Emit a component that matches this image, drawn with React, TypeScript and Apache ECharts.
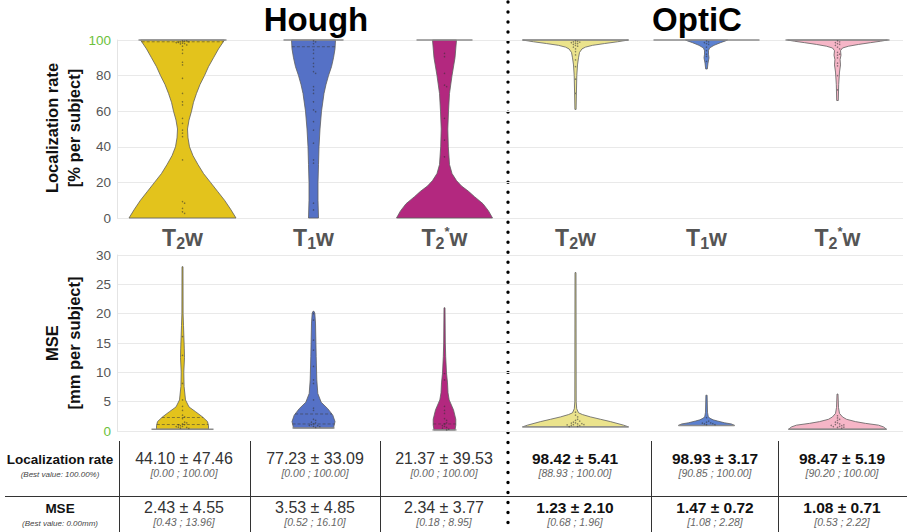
import React, { useEffect, useRef } from 'react';
import * as echarts from 'echarts';

const FONT = "'Liberation Sans', Arial, Helvetica, sans-serif";

// ---------- data ----------
const CATEGORIES = ['Hough T2w', 'Hough T1w', 'Hough T2*w', 'OptiC T2w', 'OptiC T1w', 'OptiC T2*w'];
const METHOD_TITLES = ['Hough', 'OptiC'];
const VIOLIN_COLORS = ['#e3c31c', '#5571c6', '#b3287f', '#ebe38c', '#5b80d0', '#f6b6c7'];

const LR_TICK_BEST = 100;
const MSE_TICK_BEST = 0;

// violin half-width profiles: [value, half-width density] (density unit: 1/131 of a category band)
const LR_PROFILES: number[][][] = [
  [[0, 53.5], [5, 48], [10, 42], [15, 35], [20, 28], [25, 21], [30, 15.5], [35, 10.5], [40, 7], [45, 5.5], [50, 5], [55, 6.5], [60, 9], [65, 11], [70, 14], [75, 17.5], [80, 22], [85, 26], [90, 31], [95, 36], [100, 42]],
  [[0, 5], [10, 4.5], [20, 4.5], [30, 5], [40, 5.5], [50, 6.5], [60, 8], [70, 10.5], [75, 12.5], [80, 15], [85, 18], [90, 20], [95, 21.5], [100, 22]],
  [[0, 48], [4, 44], [8, 38.5], [12, 30], [15, 24], [18, 17], [21, 12], [25, 7.5], [30, 5], [40, 3.8], [50, 3.3], [60, 4], [70, 5], [80, 7.5], [90, 10.5], [100, 12]],
  [[61, 0.6], [70, 0.9], [80, 1.3], [86, 2], [90, 3], [93, 4], [95, 6.5], [96, 10], [97, 17], [98, 29], [99, 42], [100, 53]],
  [[83.7, 0.8], [87, 1.5], [90, 2.5], [92, 2], [94, 2], [95.5, 3], [97, 7.5], [98.5, 14], [99.5, 19], [100, 21]],
  [[66, 0.8], [75, 1.2], [82, 2], [86, 3], [89, 2.6], [91.5, 3.5], [94, 3], [95.5, 5], [96.5, 11], [97.5, 21], [98.5, 33], [99.3, 43], [100, 50]],
];
const MSE_PROFILES: number[][][] = [
  [[0.3, 26], [0.9, 26], [1.6, 25], [2.4, 20], [3.3, 13], [4.1, 6.5], [5.3, 3], [7.6, 1.6], [10, 1.3], [12.5, 2], [14, 1.8], [16, 1.4], [18, 1], [20, 0.6], [28, 0.5]],
  [[0.5, 20], [1.6, 21.5], [2.7, 19.3], [3.8, 14.3], [4.9, 7.7], [6.4, 4.3], [8.7, 3.3], [12.7, 2.7], [18.4, 2], [20.1, 1.3], [20.4, 0.5]],
  [[0.18, 10.5], [1, 11.3], [2, 11.3], [3.6, 9], [5.3, 4.7], [6.5, 3.5], [8.2, 3], [9.9, 2], [12.7, 1.2], [15, 0.8], [21, 0.5]],
  [[0.7, 53], [1.0, 48], [1.6, 35], [2.0, 25], [2.4, 15], [2.8, 7], [3.1, 3], [3.8, 1.2], [5, 0.7], [27, 0.5]],
  [[0.95, 28], [1.2, 25], [1.4, 18], [1.7, 11], [1.9, 6.7], [2.2, 3], [2.5, 1.7], [3.2, 1], [6.1, 0.6]],
  [[0.3, 49], [0.7, 46], [1.0, 41], [1.3, 28], [1.6, 18], [2.0, 9], [2.4, 5], [3.0, 2], [4.0, 1], [6.3, 0.5]],
];

// half-width of the dense row of subjects at the best value
const LR_EDGE_SPREAD = [44, 30, 28, 53, 53, 52];
const MSE_EDGE_SPREAD = [31, 21, 12, 53, 28, 49];

// quartile lines drawn inside the violins (dashed)
const LR_QUARTILES: number[][] = [[99], [96.2], [], [], [], []];
const MSE_QUARTILES: number[][] = [[1.1, 2.3], [1.2, 2.9], [1.2], [], [], []];

// individual subjects
const LR_POINTS: number[][] = [
  [99.5, 99.5, 99.3, 99, 99, 98.7, 98.5, 98.2, 98, 97.8, 97.2, 96.5, 94.4, 92.5, 87.5, 86, 78.5, 70, 65.3, 63.5, 56, 53.2, 49.4, 47.7, 45.7, 32.6, 9.2, 8.3, 5.4, 3.5, 2.6],
  [99.5, 99, 98, 94.4, 92.5, 89.7, 86.9, 85, 82.2, 81.3, 73.8, 71.9, 70, 65.3, 60.7, 59.7, 54.1, 49.4, 42, 32.6, 30.8, 8.3, 4.5],
  [92.5, 90.6, 81.3, 74.7, 73.8, 56, 43.8, 34.4],
  [99.5, 99.2, 99, 98.8, 98.5, 98.2, 98, 97.5, 97, 96.5, 96, 95, 93.5, 91.6, 88.8, 85, 78, 70],
  [99.5, 99, 98.5, 98, 97.5, 96, 94, 92, 90.8, 88],
  [99.5, 99, 98.5, 98, 97.5, 97, 96, 95, 93, 92, 91.5, 90, 87, 85.5, 80, 72],
];
const MSE_POINTS: number[][] = [
  [0.45, 0.5, 0.55, 0.6, 0.65, 0.7, 0.75, 0.8, 0.85, 0.9, 1.0, 1.05, 1.1, 1.2, 1.3, 1.4, 1.5, 1.6, 1.75, 1.9, 2.1, 2.4, 2.7, 3.1, 3.5, 4.2, 5.3, 6.4, 8.1, 12.7, 12.9, 13.3, 13.9, 16.1, 17.8],
  [0.52, 0.6, 0.7, 0.75, 0.8, 0.9, 0.95, 1.0, 1.1, 1.2, 1.3, 1.4, 1.5, 1.6, 1.8, 2.0, 2.2, 2.5, 2.8, 3.1, 3.5, 3.9, 4.3, 5.3, 6.4, 7.0, 8.1, 8.7, 11.0, 13.8, 15.5, 17.2, 18.9, 20.0],
  [0.18, 0.3, 0.4, 0.5, 0.6, 0.7, 0.8, 0.9, 1.0, 1.2, 1.4, 1.6, 1.8, 2.1, 2.5, 3.0, 3.5, 4.2, 5.8, 7.0, 8.7, 9.8],
  [0.7, 0.75, 0.8, 0.85, 0.9, 0.95, 1.0, 1.0, 1.05, 1.1, 1.1, 1.15, 1.2, 1.25, 1.3, 1.35, 1.4, 1.5, 1.6, 1.7, 1.8, 1.9, 2.0, 2.2, 2.4, 2.7, 3.2, 17.5],
  [1.08, 1.1, 1.15, 1.2, 1.25, 1.3, 1.35, 1.4, 1.5, 1.6, 1.7, 1.9, 2.28],
  [0.5, 0.55, 0.6, 0.65, 0.7, 0.75, 0.8, 0.85, 0.9, 0.95, 1.0, 1.05, 1.1, 1.15, 1.2, 1.3, 1.4, 1.5, 1.6, 1.8, 2.0, 2.22, 2.6, 3.4],
];

// summary table
const LR_MEAN = [44.10, 77.23, 21.37, 98.42, 98.93, 98.47];
const LR_SD = [47.46, 33.09, 39.53, 5.41, 3.17, 5.19];
const LR_RANGE = [[0, 100], [0, 100], [0, 100], [88.93, 100], [90.85, 100], [90.20, 100]];
const MSE_MEAN = [2.43, 3.53, 2.34, 1.23, 1.47, 1.08];
const MSE_SD = [4.55, 4.85, 3.77, 2.10, 0.72, 0.71];
const MSE_RANGE = [[0.43, 13.96], [0.52, 16.10], [0.18, 8.95], [0.68, 1.96], [1.08, 2.28], [0.53, 2.22]];
const BEST_METHOD_COLS = [3, 4, 5];
const ROW_TITLES = ['Localization rate', 'MSE'];
const ROW_SUBTITLES = ['(Best value: 100.00%)', '(Best value: 0.00mm)'];
const AXIS_NAMES = [['Localization rate', '[% per subject]'], ['MSE', '[mm per subject]']];

// ---------- layout ----------
const DENSITY_BAND = 131;
const GRID_LEFT = 117;
const GRID_RIGHT = 8;
const DIVIDER_X = 508;
const TABLE_COL_X = [184, 315, 444, 575, 715, 842];
const TABLE_VLINES = [119, 250, 380, 651, 778];

function widthAt(profile: number[][], v: number) {
  for (let i = 1; i < profile.length; i++) {
    const [v0, d0] = profile[i - 1];
    const [v1, d1] = profile[i];
    if (v >= v0 && v <= v1) return d0 + ((d1 - d0) * (v - v0)) / (v1 - v0 || 1);
  }
  return 0;
}

function violinSeries(gridIndex: number, catIndex: number, profile: number[][], points: number[], quartiles: number[], edgeSpread: number, edgeAtMax: boolean, color: string) {
  const top = profile[profile.length - 1][0];
  const bottom = profile[0][0];
  return {
    type: 'custom',
    xAxisIndex: gridIndex,
    yAxisIndex: gridIndex,
    silent: true,
    data: [[catIndex, top]],
    renderItem: (_params: any, api: any) => {
      const cat = api.value(0);
      const cx = api.coord([cat, 0])[0];
      const k = api.size([1, 0])[0] / DENSITY_BAND;
      const yOf = (v: number) => api.coord([cat, v])[1];
      const right = profile.map(([v, d]) => [cx + d * k, yOf(v)]);
      const left = profile.slice().reverse().map(([v, d]) => [cx - d * k, yOf(v)]);
      const children: any[] = [
        { type: 'polygon', shape: { points: [...right, ...left] }, style: { fill: color, stroke: '#5e5e5e', lineWidth: 0.8 } },
      ];
      quartiles.forEach((q) => {
        const w = widthAt(profile, q) * k;
        children.push({
          type: 'line', shape: { x1: cx - w, y1: yOf(q), x2: cx + w, y2: yOf(q) },
          style: { stroke: 'rgba(60,60,60,0.7)', lineWidth: 0.8, lineDash: [3, 2] },
        });
      });
      const ev = edgeAtMax ? top : bottom;
      children.push({
        type: 'line',
        shape: { x1: cx - edgeSpread * k, y1: yOf(ev), x2: cx + edgeSpread * k, y2: yOf(ev) },
        style: { stroke: '#8c8c8c', lineWidth: 1.4 },
      });
      // beeswarm placement
      const step = 2.1;
      const placed: number[][] = [];
      const ys = points.map(yOf).sort((a, b) => a - b);
      for (const py of ys) {
        let off = 0;
        for (let i = 0; i < 400; i++) {
          const o = i === 0 ? 0 : (i % 2 ? 1 : -1) * Math.ceil(i / 2) * step;
          const ok = placed.every(([qx, qy]) => (qx - (cx + o)) ** 2 + (qy - py) ** 2 >= step * step);
          if (ok) { off = o; break; }
        }
        placed.push([cx + off, py]);
      }
      placed.forEach(([x, y]) => {
        children.push({ type: 'circle', shape: { cx: x, cy: y, r: 0.75 }, style: { fill: 'rgba(50,50,50,0.55)' } });
      });
      return { type: 'group', children };
    },
  };
}

const catLabel = (name: string) => {
  const seq = name.split(' ')[1];
  if (seq === 'T2*w') return '{t|T}{s|2}{p|*}{t|w}';
  return `{t|T}{s|${seq[1]}}{t|w}`;
};

const tickFormatter = (best: number) => (v: number) => (v === best ? `{g|${v}}` : `{n|${v}}`);
const tickRich = {
  g: { color: '#6cc13b', fontSize: 13.5, fontFamily: FONT },
  n: { color: '#555', fontSize: 13.5, fontFamily: FONT },
};

function buildGraphics() {
  const g: any[] = [];
  METHOD_TITLES.forEach((t, i) => {
    g.push({
      type: 'text', x: i === 0 ? 316 : 697, y: 19,
      style: { text: t, font: `bold 33px ${FONT}`, fill: '#000', align: 'center', verticalAlign: 'middle' },
    });
  });
  // axis names
  const nameY = [128, 343];
  AXIS_NAMES.forEach((lines, r) => {
    lines.forEach((txt, li) => {
      g.push({
        type: 'text', x: li === 0 ? 52 : 74, y: nameY[r], rotation: Math.PI / 2,
        style: { text: txt, font: `bold 16.5px ${FONT}`, fill: '#111', align: 'center', verticalAlign: 'middle' },
      });
    });
  });
  // table lines
  g.push({ type: 'line', shape: { x1: 5, y1: 496.5, x2: 907, y2: 496.5 }, style: { stroke: '#333', lineWidth: 1 } });
  TABLE_VLINES.forEach((x) => {
    g.push({ type: 'line', shape: { x1: x + 0.5, y1: 441, x2: x + 0.5, y2: 532 }, style: { stroke: '#333', lineWidth: 1 } });
  });
  // row titles
  const rowY = [459, 508];
  ROW_TITLES.forEach((t, r) => {
    g.push({ type: 'text', x: 60, y: rowY[r], style: { text: t, font: `bold 13.5px ${FONT}`, fill: '#111', align: 'center', verticalAlign: 'middle' } });
    g.push({ type: 'text', x: 60, y: rowY[r] + 15, style: { text: ROW_SUBTITLES[r], font: `italic 8px ${FONT}`, fill: '#444', align: 'center', verticalAlign: 'middle' } });
  });
  // cells
  const rows = [
    { mean: LR_MEAN, sd: LR_SD, range: LR_RANGE },
    { mean: MSE_MEAN, sd: MSE_SD, range: MSE_RANGE },
  ];
  rows.forEach((row, r) => {
    TABLE_COL_X.forEach((x, c) => {
      const best = BEST_METHOD_COLS.includes(c);
      g.push({
        type: 'text', x, y: rowY[r] - 1,
        style: {
          text: `${row.mean[c].toFixed(2)} ± ${row.sd[c].toFixed(2)}`,
          font: best ? `bold 15.5px ${FONT}` : `16px ${FONT}`,
          fill: best ? '#111' : '#333', align: 'center', verticalAlign: 'middle',
        },
      });
      g.push({
        type: 'text', x, y: rowY[r] + 14,
        style: {
          text: `[${row.range[c][0].toFixed(2)} ; ${row.range[c][1].toFixed(2)}]`,
          font: `italic 10.5px ${FONT}`, fill: '#666', align: 'center', verticalAlign: 'middle',
        },
      });
    });
  });
  // dotted divider
  g.push({
    type: 'line', shape: { x1: DIVIDER_X, y1: 2, x2: DIVIDER_X, y2: 532 },
    style: { stroke: '#000', lineWidth: 3.4, lineDash: [0.01, 10], lineCap: 'round' },
  });
  return g;
}

export default function App() {
  const ref = useRef<HTMLDivElement>(null);
  useEffect(() => {
    document.body.style.margin = '0';
    const chart = echarts.init(ref.current!, undefined, { renderer: 'svg' });
    const series: any[] = [];
    CATEGORIES.forEach((_c, i) => {
      series.push(violinSeries(0, i, LR_PROFILES[i], LR_POINTS[i], LR_QUARTILES[i], LR_EDGE_SPREAD[i], true, VIOLIN_COLORS[i]));
      series.push(violinSeries(1, i, MSE_PROFILES[i], MSE_POINTS[i], MSE_QUARTILES[i], MSE_EDGE_SPREAD[i], false, VIOLIN_COLORS[i]));
    });
    const splitLine = { show: true, lineStyle: { color: '#e9e9e9', width: 1 } };
    chart.setOption({
      animation: false,
      backgroundColor: '#fff',
      grid: [
        { left: GRID_LEFT, right: GRID_RIGHT, top: 40, height: 178 },
        { left: GRID_LEFT, right: GRID_RIGHT, top: 255, height: 176 },
      ],
      xAxis: [
        { gridIndex: 0, type: 'category', data: CATEGORIES, axisLine: { show: false }, axisTick: { show: false }, axisLabel: { show: false }, splitLine: { show: false } },
        {
          gridIndex: 1, type: 'category', data: CATEGORIES, position: 'top',
          axisLine: { show: false }, axisTick: { show: false }, splitLine: { show: false },
          axisLabel: {
            margin: 4, interval: 0, formatter: catLabel,
            rich: {
              t: { fontSize: 23, fontWeight: 'bold', color: '#555', fontFamily: FONT, lineHeight: 26 },
              s: { fontSize: 16, fontWeight: 'bold', color: '#555', fontFamily: FONT, verticalAlign: 'bottom', lineHeight: 15 },
              p: { fontSize: 13, fontWeight: 'bold', color: '#555', fontFamily: FONT, verticalAlign: 'top', lineHeight: 12 },
            },
          },
        },
      ],
      yAxis: [
        {
          gridIndex: 0, type: 'value', min: 0, max: 100, interval: 20,
          axisLine: { show: true, lineStyle: { color: '#e4e4e4' } }, axisTick: { show: false }, splitLine,
          axisLabel: { margin: 6, formatter: tickFormatter(LR_TICK_BEST), rich: tickRich },
        },
        {
          gridIndex: 1, type: 'value', min: 0, max: 30, interval: 5,
          axisLine: { show: true, lineStyle: { color: '#e4e4e4' } }, axisTick: { show: false }, splitLine,
          axisLabel: { margin: 6, formatter: tickFormatter(MSE_TICK_BEST), rich: tickRich },
        },
      ],
      series,
      graphic: buildGraphics(),
    });
    return () => chart.dispose();
  }, []);
  return <div ref={ref} style={{ width: 911, height: 532, position: 'absolute', left: 0, top: 0 }} />;
}
